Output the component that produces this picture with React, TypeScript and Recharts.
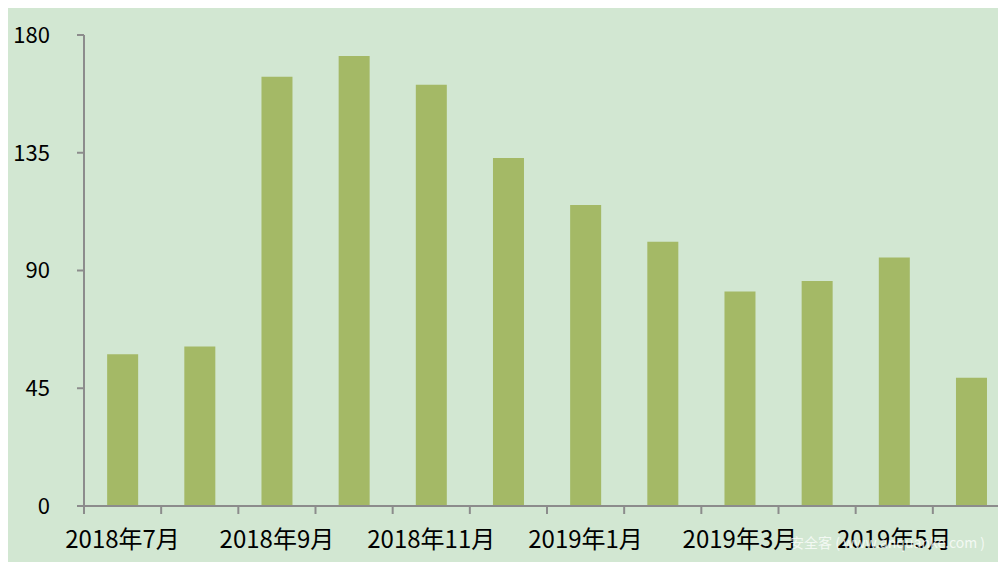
import React from "react";
import { BarChart, Bar, XAxis, YAxis } from "recharts";

const months = [
  "2018年7月", "2018年8月", "2018年9月", "2018年10月", "2018年11月", "2018年12月",
  "2019年1月", "2019年2月", "2019年3月", "2019年4月", "2019年5月", "2019年6月",
];
const values = [58, 61, 164, 172, 161, 133, 115, 101, 82, 86, 95, 49];
const yTicks = [0, 45, 90, 135, 180];

const data = months.map((m, i) => ({ month: m, value: values[i] }));

const CHART_W = 1004;
const LEFT = 76;
const RIGHT = 2;
const BAND = (CHART_W - LEFT - RIGHT) / months.length;
const FONT = "'Noto Sans CJK SC', 'Liberation Sans', sans-serif";
const AXIS = "#8c8c8c";

const XTick = (props: any) => {
  const { x, y, payload } = props;
  const idx = payload.index;
  const bx = x - BAND / 2;
  return (
    <g>
      <line x1={bx} y1={y} x2={bx} y2={y + 8} stroke={AXIS} strokeWidth={2} />
      {idx % 2 === 0 ? (
        <text x={x} y={y + 42} textAnchor="middle" fill="#000" fontSize={24} fontFamily={FONT}>
          {payload.value}
        </text>
      ) : null}
    </g>
  );
};

export default function App() {
  return (
    <div
      style={{
        position: "relative",
        width: 998,
        height: 554,
        background: "#d2e7d2",
        overflow: "hidden",
      }}
    >
      <BarChart
        width={CHART_W}
        height={554}
        data={data}
        margin={{ top: 27, right: RIGHT, bottom: 0, left: 0 }}
        barCategoryGap="30%"
      >
        <XAxis
          dataKey="month"
          interval={0}
          height={56}
          tickLine={false}
          tickSize={0}
          tickMargin={0}
          axisLine={{ stroke: AXIS, strokeWidth: 2 }}
          tick={<XTick />}
        />
        <YAxis
          width={LEFT}
          domain={[0, 180]}
          ticks={yTicks}
          interval={0}
          tickSize={7}
          tickMargin={27}
          axisLine={{ stroke: AXIS, strokeWidth: 2 }}
          tickLine={{ stroke: AXIS, strokeWidth: 2 }}
          tick={{ fill: "#000", fontSize: 22, fontFamily: FONT }}
        />
        <Bar dataKey="value" fill="#a4b966" isAnimationActive={false} />
      </BarChart>
      <div
        style={{
          position: "absolute",
          left: 782,
          top: 524,
          fontSize: 14,
          fontFamily: FONT,
          color: "rgba(255,255,255,0.75)",
          whiteSpace: "nowrap",
        }}
      >
        安全客 ( www.anquanke.com )
      </div>
    </div>
  );
}
